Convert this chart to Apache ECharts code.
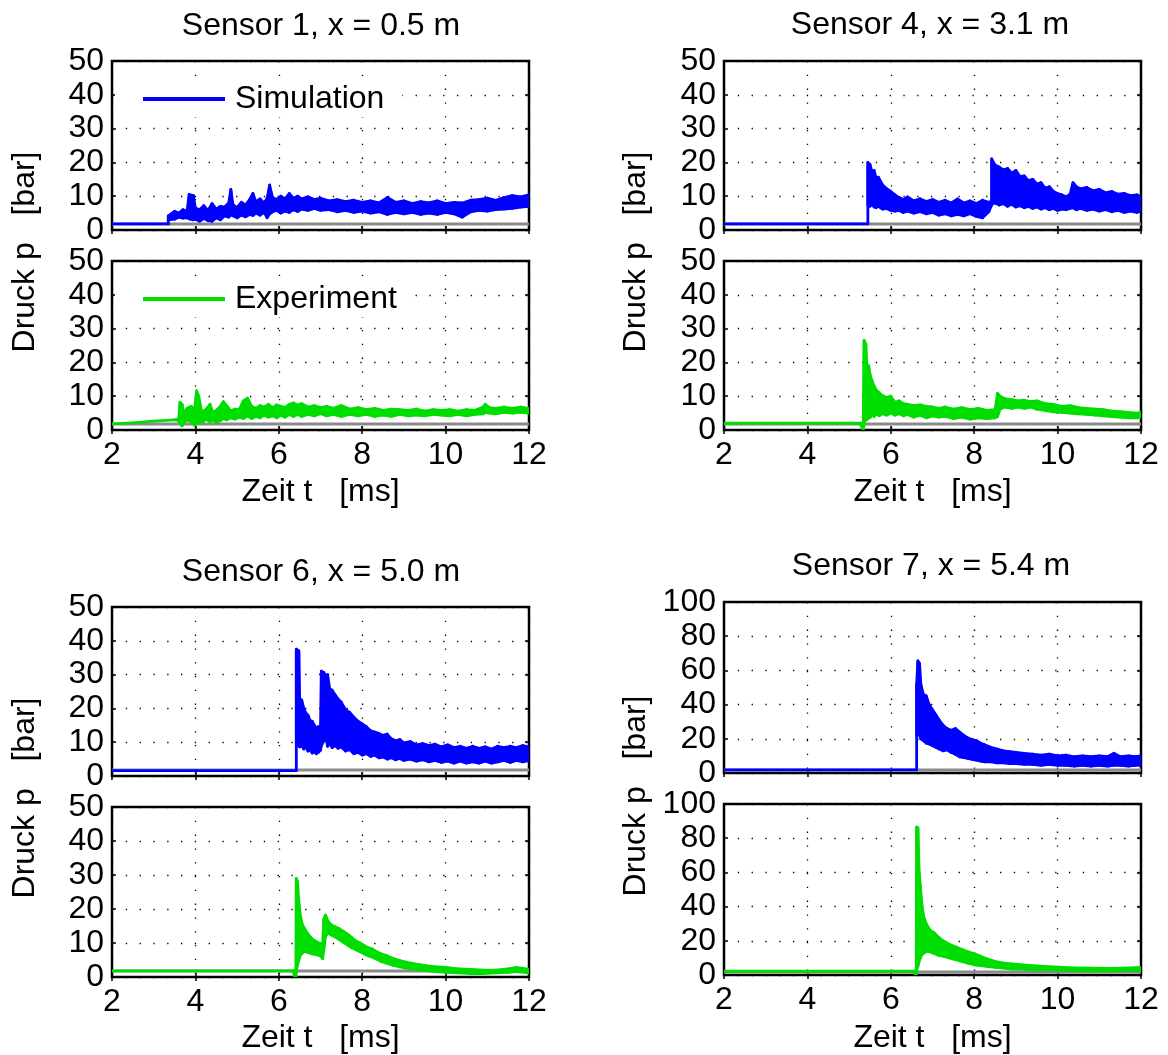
<!DOCTYPE html>
<html>
<head>
<meta charset="utf-8">
<title>Druckverlauf Sensoren 1, 4, 6, 7</title>
<script src="https://cdn.jsdelivr.net/npm/echarts@6/dist/echarts.min.js"></script>
<style>
  html, body { margin: 0; padding: 0; background: #fff; }
  #chart { width: 1168px; height: 1055px; }
</style>
</head>
<body>
<div id="chart"></div>
<script>
// time axis ticks [ms]
const xTicks = [2, 4, 6, 8, 10, 12]
// upper limit of the pressure axis per sensor [bar]
const yMaxBySensor = [50, 50, 50, 100]
const sensorTitles = ['Sensor 1, x = 0.5 m', 'Sensor 4, x = 3.1 m', 'Sensor 6, x = 5.0 m', 'Sensor 7, x = 5.4 m']
const seriesNames = ['Simulation', 'Experiment']
// grey reference line (ambient pressure) [t, p]
const ambient = [[2, 1.8], [12, 1.8]]

// each row: [t ms, lower edge of the noisy band, upper edge] in bar
const s1Sim = [
  [2.0, 1.8, 1.8], [3.35, 1.8, 1.8], [3.35, 3.0, 4.2], [3.5, 3.2, 5.5], [3.6, 3.8, 5.0],
  [3.7, 3.5, 6.0], [3.8, 3.6, 5.6], [3.85, 3.3, 10.5], [3.95, 3.0, 10.2], [4.0, 3.2, 6.5],
  [4.1, 2.6, 6.0], [4.2, 3.4, 7.2], [4.3, 2.8, 5.8], [4.4, 2.6, 7.8], [4.5, 3.6, 6.2],
  [4.6, 3.0, 7.0], [4.7, 4.2, 6.8], [4.8, 3.8, 8.0], [4.85, 4.5, 12.0], [4.9, 4.2, 7.5],
  [5.0, 3.6, 6.6], [5.1, 4.4, 8.2], [5.2, 3.9, 7.4], [5.3, 4.6, 9.0], [5.38, 4.3, 10.8],
  [5.45, 5.0, 8.4], [5.55, 4.4, 9.2], [5.65, 5.2, 8.0], [5.72, 3.6, 9.4], [5.78, 4.8, 13.3],
  [5.85, 5.4, 9.6], [5.95, 5.8, 9.0], [6.05, 5.0, 10.0], [6.15, 5.6, 9.2], [6.25, 5.2, 10.8],
  [6.35, 6.0, 9.4], [6.45, 5.5, 10.0], [6.55, 6.2, 9.2], [6.7, 5.8, 9.8], [6.85, 6.4, 9.0],
  [7.0, 5.8, 9.4], [7.2, 6.0, 8.6], [7.4, 5.4, 9.0], [7.6, 5.8, 8.4], [7.8, 5.2, 8.8],
  [8.0, 5.6, 8.2], [8.2, 5.0, 8.6], [8.4, 5.4, 8.0], [8.6, 4.6, 9.6], [8.8, 5.2, 8.2],
  [9.0, 4.8, 8.6], [9.2, 5.2, 7.8], [9.4, 4.6, 8.4], [9.6, 5.0, 8.0], [9.8, 4.6, 8.6],
  [10.0, 5.2, 7.8], [10.2, 4.8, 8.2], [10.4, 3.8, 8.0], [10.6, 5.4, 8.8], [10.8, 5.8, 9.0],
  [11.0, 5.6, 9.4], [11.2, 6.0, 8.8], [11.4, 6.2, 9.6], [11.6, 6.4, 10.2], [11.8, 6.8, 9.8],
  [12.0, 7.0, 10.4]
]
const s1Exp = [
  [2.0, 1.8, 1.8], [2.5, 2.1, 2.1], [3.0, 2.6, 2.6], [3.5, 3.0, 3.0], [3.6, 2.8, 3.2],
  [3.63, 2.0, 8.2], [3.68, 1.2, 7.6], [3.72, 2.2, 5.0], [3.8, 3.0, 6.4], [3.9, 2.4, 7.0],
  [3.98, 1.4, 6.0], [4.03, 2.0, 11.6], [4.08, 2.8, 10.0], [4.15, 2.0, 5.4], [4.25, 3.2, 6.0],
  [4.35, 2.4, 7.6], [4.42, 3.0, 5.2], [4.5, 2.2, 5.8], [4.6, 2.8, 7.0], [4.67, 3.4, 8.4],
  [4.75, 3.0, 7.2], [4.85, 3.6, 5.6], [4.95, 3.2, 6.2], [5.05, 3.8, 6.0], [5.15, 3.4, 8.6],
  [5.25, 4.2, 9.4], [5.35, 3.4, 7.0], [5.45, 4.0, 6.4], [5.55, 3.6, 7.2], [5.65, 4.4, 6.8],
  [5.75, 3.8, 7.6], [5.85, 4.2, 6.6], [5.95, 3.6, 7.4], [6.05, 4.4, 7.0], [6.15, 3.8, 6.6],
  [6.25, 4.6, 7.6], [6.35, 4.0, 8.0], [6.45, 4.6, 7.4], [6.55, 4.0, 7.8], [6.7, 4.6, 6.8],
  [6.85, 4.2, 7.2], [7.0, 4.8, 6.6], [7.15, 4.2, 7.0], [7.3, 4.6, 6.4], [7.5, 4.0, 7.2],
  [7.7, 4.6, 6.2], [7.9, 4.2, 6.6], [8.1, 4.6, 6.0], [8.3, 4.0, 6.4], [8.5, 4.4, 5.8],
  [8.7, 4.0, 6.2], [8.9, 4.6, 6.0], [9.1, 4.2, 5.8], [9.3, 4.4, 6.2], [9.5, 4.2, 5.6],
  [9.7, 4.6, 6.0], [9.9, 4.4, 5.8], [10.1, 4.2, 6.0], [10.3, 4.6, 5.6], [10.5, 4.2, 6.0],
  [10.7, 4.6, 5.8], [10.9, 4.8, 6.8], [10.95, 5.2, 7.6], [11.05, 5.0, 6.6], [11.2, 4.8, 6.4],
  [11.4, 5.2, 6.8], [11.6, 5.0, 6.4], [11.8, 5.2, 6.8], [12.0, 5.0, 6.4]
]
const s4Sim = [
  [2.0, 1.8, 1.8], [5.45, 1.8, 1.8], [5.45, 7.2, 20.0], [5.5, 7.0, 19.4], [5.55, 7.6, 17.2],
  [5.6, 6.8, 17.6], [5.65, 6.6, 15.2], [5.7, 7.0, 15.6], [5.8, 6.2, 13.4], [5.9, 6.4, 12.2],
  [6.0, 5.8, 11.4], [6.1, 5.6, 10.4], [6.2, 5.8, 9.6], [6.3, 5.2, 9.0], [6.4, 5.6, 9.8],
  [6.55, 5.0, 8.6], [6.7, 5.4, 9.2], [6.85, 4.8, 8.4], [7.0, 5.2, 9.0], [7.15, 4.4, 8.2],
  [7.3, 4.8, 8.8], [7.45, 4.2, 8.0], [7.6, 4.6, 9.2], [7.75, 4.2, 8.0], [7.9, 4.8, 8.6],
  [8.05, 4.0, 7.8], [8.2, 3.6, 8.8], [8.35, 5.4, 8.2], [8.42, 7.4, 8.6], [8.42, 7.6, 21.0],
  [8.5, 8.0, 19.2], [8.6, 7.4, 18.6], [8.7, 7.8, 17.8], [8.8, 7.0, 18.2], [8.9, 7.6, 16.8],
  [9.0, 6.8, 17.6], [9.1, 7.2, 15.8], [9.2, 6.6, 16.0], [9.3, 7.0, 14.6], [9.4, 6.4, 15.0],
  [9.5, 6.8, 13.6], [9.6, 6.2, 14.0], [9.7, 6.6, 12.4], [9.8, 6.0, 12.8], [9.9, 6.4, 11.4],
  [10.0, 5.8, 10.8], [10.1, 6.2, 10.4], [10.2, 6.0, 9.8], [10.3, 6.4, 10.6], [10.37, 6.6, 14.0],
  [10.45, 6.0, 12.8], [10.55, 6.4, 12.2], [10.7, 5.8, 12.6], [10.85, 6.2, 11.6], [11.0, 5.6, 12.0],
  [11.15, 6.0, 11.0], [11.3, 5.4, 11.4], [11.45, 5.8, 10.6], [11.6, 5.2, 10.8], [11.75, 5.6, 10.2],
  [11.9, 5.2, 10.4], [12.0, 5.6, 9.8]
]
const s4Exp = [
  [2.0, 2.0, 2.0], [5.25, 2.0, 2.0], [5.32, 0.6, 2.0], [5.34, 0.0, 1.5], [5.36, 2.0, 26.5],
  [5.4, 3.5, 25.5], [5.43, 3.0, 18.0], [5.47, 4.0, 19.0], [5.5, 3.6, 16.5], [5.55, 4.6, 14.5],
  [5.6, 4.0, 13.0], [5.65, 4.8, 11.8], [5.72, 4.2, 11.0], [5.8, 4.8, 10.2], [5.9, 4.4, 9.6],
  [6.0, 5.0, 10.0], [6.1, 4.4, 8.2], [6.2, 4.8, 8.6], [6.3, 4.2, 7.8], [6.4, 4.6, 7.6],
  [6.55, 3.8, 7.2], [6.7, 4.4, 7.4], [6.85, 3.6, 7.0], [7.0, 4.2, 6.8], [7.15, 3.8, 6.4],
  [7.3, 4.0, 6.8], [7.5, 3.4, 6.2], [7.7, 3.8, 6.6], [7.9, 3.2, 6.0], [8.1, 3.6, 6.4],
  [8.3, 3.4, 5.8], [8.5, 3.6, 6.0], [8.56, 4.0, 10.8], [8.62, 6.2, 10.0], [8.75, 6.8, 9.2],
  [8.9, 6.4, 9.0], [9.05, 6.8, 8.6], [9.2, 6.4, 8.8], [9.35, 6.8, 8.4], [9.5, 6.2, 8.6],
  [9.7, 5.8, 7.8], [9.9, 5.4, 7.6], [10.1, 5.2, 7.0], [10.3, 5.0, 7.2], [10.5, 4.8, 6.6],
  [10.7, 4.6, 6.4], [10.9, 4.4, 6.2], [11.1, 4.2, 6.0], [11.3, 4.0, 5.6], [11.5, 3.8, 5.4],
  [11.7, 3.6, 5.2], [11.9, 3.6, 5.0], [12.0, 3.8, 5.2]
]
const s6Sim = [
  [2.0, 1.6, 1.6], [6.42, 1.6, 1.6], [6.42, 9.0, 37.5], [6.48, 9.4, 37.0], [6.5, 8.6, 23.0],
  [6.55, 9.0, 22.4], [6.6, 8.0, 20.0], [6.65, 8.6, 18.6], [6.7, 7.4, 18.0], [6.75, 7.8, 16.4],
  [6.8, 6.8, 16.2], [6.85, 7.2, 15.0], [6.9, 6.6, 14.2], [6.95, 7.0, 14.6], [7.0, 7.6, 13.8],
  [7.02, 9.0, 31.0], [7.08, 10.4, 30.6], [7.13, 11.2, 29.6], [7.17, 8.8, 30.0], [7.22, 9.6, 25.8],
  [7.28, 8.4, 25.4], [7.35, 9.0, 24.0], [7.42, 8.2, 22.8], [7.5, 8.6, 21.8], [7.6, 7.4, 19.6],
  [7.7, 7.8, 18.8], [7.8, 6.6, 17.4], [7.9, 7.0, 16.2], [8.0, 6.2, 15.4], [8.1, 6.6, 14.6],
  [8.2, 5.8, 13.4], [8.3, 6.2, 13.0], [8.4, 5.4, 12.6], [8.5, 5.6, 12.0], [8.6, 5.0, 12.4],
  [8.7, 5.4, 11.0], [8.8, 4.8, 10.4], [8.9, 5.2, 10.8], [9.0, 4.6, 9.8], [9.15, 5.0, 10.2],
  [9.3, 4.4, 9.2], [9.45, 4.8, 9.6], [9.6, 4.2, 9.0], [9.75, 4.6, 9.4], [9.9, 4.0, 8.6],
  [10.05, 4.4, 9.2], [10.2, 3.8, 8.4], [10.35, 4.4, 8.8], [10.5, 3.8, 8.2], [10.65, 4.2, 8.8],
  [10.8, 3.8, 8.2], [10.95, 4.4, 8.6], [11.1, 3.8, 8.0], [11.25, 4.2, 8.8], [11.4, 4.6, 8.4],
  [11.55, 4.0, 8.8], [11.7, 4.6, 8.4], [11.85, 4.2, 9.0], [12.0, 4.6, 8.6]
]
const s6Exp = [
  [2.0, 1.8, 1.8], [6.34, 1.8, 1.8], [6.38, 0.2, 1.8], [6.41, 0.0, 1.6], [6.42, 2.0, 29.0],
  [6.45, 3.5, 28.0], [6.48, 5.0, 22.0], [6.52, 6.5, 18.0], [6.56, 7.0, 15.5], [6.62, 7.5, 14.2],
  [6.7, 7.2, 12.6], [6.8, 6.8, 11.2], [6.9, 6.6, 10.4], [7.0, 6.2, 9.8], [7.05, 5.4, 9.4],
  [7.08, 8.0, 17.0], [7.12, 12.0, 18.2], [7.18, 13.0, 16.4], [7.25, 12.4, 15.4], [7.35, 11.8, 14.8],
  [7.45, 11.0, 14.2], [7.55, 10.2, 13.4], [7.65, 9.4, 12.6], [7.75, 8.6, 11.6], [7.85, 8.0, 10.6],
  [7.95, 7.4, 10.0], [8.05, 6.8, 9.2], [8.15, 6.2, 8.6], [8.25, 5.8, 8.2], [8.35, 5.2, 7.4],
  [8.45, 4.6, 6.8], [8.6, 4.0, 6.2], [8.75, 3.4, 5.4], [8.9, 3.0, 4.8], [9.05, 2.6, 4.4],
  [9.2, 2.4, 4.0], [9.4, 2.0, 3.6], [9.6, 1.8, 3.2], [9.8, 1.6, 3.0], [10.0, 1.4, 2.8],
  [10.3, 1.2, 2.4], [10.6, 1.0, 2.2], [10.9, 1.0, 2.0], [11.2, 1.2, 2.0], [11.5, 1.4, 2.4],
  [11.7, 1.6, 2.8], [12.0, 1.2, 2.2]
]
const s7Sim = [
  [2.0, 1.8, 1.8], [6.62, 1.8, 1.8], [6.62, 22.0, 52.0], [6.65, 24.0, 65.5], [6.69, 22.0, 64.0],
  [6.72, 20.0, 52.0], [6.78, 19.0, 46.0], [6.85, 17.5, 45.0], [6.92, 17.0, 40.0], [7.0, 16.0, 37.0],
  [7.08, 15.0, 34.0], [7.16, 14.0, 31.0], [7.25, 13.0, 28.0], [7.35, 13.5, 26.0], [7.45, 12.0, 25.0],
  [7.55, 11.0, 26.0], [7.65, 9.5, 24.0], [7.75, 9.0, 22.0], [7.85, 8.5, 20.5], [7.95, 8.0, 19.5],
  [8.05, 7.5, 19.0], [8.15, 7.0, 17.5], [8.25, 6.5, 16.5], [8.4, 6.5, 15.0], [8.55, 6.0, 14.0],
  [8.7, 6.0, 13.0], [8.85, 5.5, 12.5], [9.0, 5.5, 12.0], [9.2, 5.0, 11.5], [9.4, 5.0, 11.0],
  [9.6, 4.5, 10.5], [9.8, 5.0, 11.0], [10.0, 4.5, 10.0], [10.2, 4.5, 10.5], [10.4, 4.0, 9.5],
  [10.6, 4.5, 10.0], [10.8, 4.0, 9.5], [11.0, 4.5, 10.0], [11.2, 4.0, 9.5], [11.35, 4.5, 11.5],
  [11.5, 4.5, 9.5], [11.7, 4.0, 10.0], [11.85, 4.5, 9.5], [12.0, 4.5, 10.0]
]
const s7Exp = [
  [2.0, 2.2, 2.2], [6.56, 2.2, 2.2], [6.59, 0.0, 2.2], [6.61, 0.0, 2.0], [6.62, 3.0, 86.5],
  [6.65, 5.0, 86.0], [6.68, 8.0, 60.0], [6.71, 10.0, 52.0], [6.75, 12.0, 40.0], [6.8, 13.0, 33.0],
  [6.87, 14.0, 29.0], [6.95, 13.5, 26.0], [7.05, 12.5, 24.5], [7.15, 11.5, 22.0], [7.25, 11.0, 20.0],
  [7.4, 10.0, 18.0], [7.55, 9.0, 16.5], [7.7, 8.0, 15.0], [7.85, 7.0, 13.5], [8.0, 6.0, 12.5],
  [8.15, 5.5, 11.0], [8.3, 5.0, 9.5], [8.5, 4.5, 8.0], [8.7, 4.0, 7.0], [8.9, 3.5, 6.5],
  [9.1, 3.5, 6.0], [9.4, 3.0, 5.5], [9.7, 3.0, 5.0], [10.0, 2.8, 4.6], [10.4, 2.6, 4.2],
  [10.8, 2.4, 4.0], [11.2, 2.4, 3.8], [11.6, 2.6, 4.0], [12.0, 2.8, 4.4]
]

const FONT = "'Liberation Sans', Arial, Helvetica, sans-serif"
const FS = 32
const COLORS = ['#0000ff', '#00dd00']
const GREY = '#8a8a8a'

// layout of the four sensor panels (each: simulation on top, experiment below)
const panels = [
  { data: [s1Sim, s1Exp], left: 112, width: 417, top: [61, 261], height: [169, 169], tx: 321, ty: 26, yLabel: [25, 252], xLabelY: 492 },
  { data: [s4Sim, s4Exp], left: 724, width: 417, top: [61, 261], height: [169, 169], tx: 930, ty: 25, yLabel: [636, 252], xLabelY: 492 },
  { data: [s6Sim, s6Exp], left: 112, width: 417, top: [607, 807], height: [169, 170], tx: 321, ty: 572, yLabel: [25, 798], xLabelY: 1038 },
  { data: [s7Sim, s7Exp], left: 724, width: 417, top: [602, 804], height: [171, 171], tx: 931, ty: 566, yLabel: [636, 796], xLabelY: 1038 }
]

const dotted = { show: true, lineStyle: { color: '#000', width: 1.3, type: [1.3, 12.5] } }
const tick = { show: true, inside: true, length: 4, lineStyle: { color: '#000', width: 1.5 } }
const labelStyle = { color: '#000', fontSize: FS, fontFamily: FONT }

// noisy signal drawn as a filled band between its lower and upper edge
const bandRenderer = (rows, color) => (params, api) => {
  const i = params.dataIndex
  if (i >= rows.length - 1) return null
  const a = rows[i], b = rows[i + 1]
  const pts = [
    api.coord([a[0], a[1]]), api.coord([b[0], b[1]]),
    api.coord([b[0], b[2]]), api.coord([a[0], a[2]])
  ]
  return {
    type: 'polygon',
    shape: { points: pts },
    style: { fill: color, stroke: color, lineWidth: 2.8, lineJoin: 'round' }
  }
}

const grids = [], xAxes = [], yAxes = [], series = [], graphics = []

panels.forEach((p, k) => {
  const yMax = yMaxBySensor[k]
  p.data.forEach((rows, j) => {
    const g = grids.length
    const color = COLORS[j]
    grids.push({
      left: p.left, top: p.top[j], width: p.width, height: p.height[j],
      show: true, borderColor: '#000', borderWidth: 2.5, backgroundColor: 'transparent'
    })
    const xBase = {
      gridIndex: g, type: 'value',
      min: xTicks[0], max: xTicks[xTicks.length - 1], interval: xTicks[1] - xTicks[0],
      axisLine: { show: false }, axisTick: tick
    }
    xAxes.push({ ...xBase, position: 'bottom',
      axisLabel: { show: j === 1, margin: 9, ...labelStyle }, splitLine: dotted })
    xAxes.push({ ...xBase, position: 'top', axisLabel: { show: false }, splitLine: { show: false } })
    const yBase = {
      gridIndex: g, type: 'value', min: 0, max: yMax, interval: yMax / 5,
      axisLine: { show: false }, axisTick: tick
    }
    yAxes.push({ ...yBase, position: 'left',
      axisLabel: { show: true, margin: 8, ...labelStyle }, splitLine: dotted })
    yAxes.push({ ...yBase, position: 'right', axisLabel: { show: false }, splitLine: { show: false } })

    const ax = { xAxisIndex: 2 * g, yAxisIndex: 2 * g }
    series.push({
      ...ax, type: 'line', name: 'ambient', data: ambient, showSymbol: false, silent: true, z: 1,
      lineStyle: { color: GREY, width: 3 }, itemStyle: { color: GREY }
    })
    series.push({
      ...ax, type: 'custom', name: seriesNames[j], data: rows, silent: true, clip: true, z: 3,
      encode: { x: 0, y: [1, 2] },
      itemStyle: { color: color },
      renderItem: bandRenderer(rows, color)
    })
  })

  graphics.push({
    type: 'text', x: p.tx, y: p.ty,
    style: { text: sensorTitles[k], fill: '#000', fontSize: FS, fontFamily: FONT, align: 'center', verticalAlign: 'middle' }
  })
  graphics.push({
    type: 'text', x: p.yLabel[0], y: p.yLabel[1], rotation: Math.PI / 2,
    style: { text: 'Druck p   [bar]', fill: '#000', fontSize: FS, fontFamily: FONT, align: 'center', verticalAlign: 'middle' }
  })
  graphics.push({
    type: 'text', x: p.left + p.width / 2, y: p.xLabelY,
    style: { text: 'Zeit t   [ms]', fill: '#000', fontSize: FS, fontFamily: FONT, align: 'center', verticalAlign: 'middle' }
  })
})

// legend box keeps clear of the left frame line
const legendBase = {
  orient: 'horizontal', left: 115, icon: 'rect', itemWidth: 82, itemHeight: 4,
  selectedMode: false, backgroundColor: '#fff', padding: [2, 18, 2, 28],
  textStyle: { color: '#000', fontSize: FS, fontFamily: FONT, padding: [0, 0, 0, 5] }
}

const chart = echarts.init(document.getElementById('chart'))
chart.setOption({
  animation: false,
  backgroundColor: '#fff',
  grid: grids,
  xAxis: xAxes,
  yAxis: yAxes,
  legend: [
    { ...legendBase, top: 81, data: [seriesNames[0]] },
    { ...legendBase, top: 281, data: [seriesNames[1]] }
  ],
  graphic: graphics,
  series: series
})
window.addEventListener('resize', () => chart.resize())
</script>
</body>
</html>
